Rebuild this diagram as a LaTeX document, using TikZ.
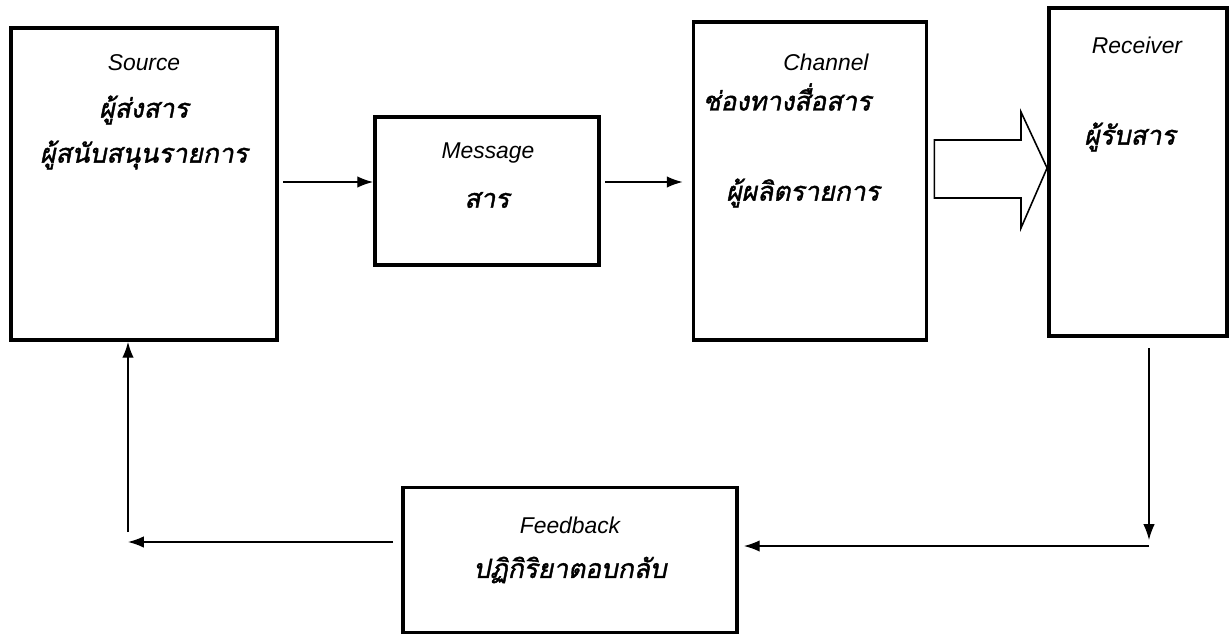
\documentclass[tikz,border=0pt]{standalone}
\usepackage{fontspec}
\setmainfont{Liberation Sans}
\newfontfamily\thaifont[Script=Thai,AutoFakeSlant=0.2,AutoFakeBold=1.5]{Loma}
\usetikzlibrary{arrows.meta}
\tikzset{
  blk/.style={draw, line width=2.2pt},
  en/.style={font=\fontsize{13}{15}\selectfont\itshape},
  th/.style={font=\fontsize{15}{17}\thaifont\bfseries\itshape},
  arr/.style={-{Latex[length=9pt,width=6.5pt]}, line width=0.8pt},
}
\begin{document}
\begin{tikzpicture}[x=0.02cm,y=-0.02cm]
		\useasboundingbox (0,0) rectangle (1230,636);
		% boxes
		\node[blk, minimum width=5.32cm, minimum height=6.24cm] (SRC) at (144,184) {};
		\node[blk, minimum width=4.48cm, minimum height=2.96cm] (MSG) at (487,191) {};
		\node[blk, minimum width=4.66cm, minimum height=6.36cm] (CH) at (810,181) {};
		\node[blk, minimum width=3.56cm, minimum height=6.56cm] (RCV) at (1138,172) {};
		\node[blk, minimum width=6.68cm, minimum height=2.90cm] (FB) at (570,560) {};
		
		% texts
		\node[en] (SRCa) at (144,63) {Source};
		\node[th] (SRCb) at (144,110) {ผู้ส่งสาร};
		\node[th] (SRCc) at (144,155) {ผู้สนับสนุนรายการ};
		\node[en] (MSGa) at (488,153) {Message};
		\node[th] (MSGb) at (487,200) {สาร};
		\node[en] (CHa) at (826,62) {Channel};
		\node[th] (CHb) at (787,97) {ช่องทางสื่อสาร};
		\node[th] (CHc) at (803,193) {ผู้ผลิตรายการ};
		\node[en] (RCVa) at (1137,45) {Receiver};
		\node[th] (RCVb) at (1130,137) {ผู้รับสาร};
		\node[en] (FBa) at (570,525) {Feedback};
		\node[th] (FBb) at (570,570) {ปฏิกิริยาตอบกลับ};
		
		% free ends
		\coordinate (m1) at (283,182);
		\coordinate (m2) at (605,182);
		\coordinate (r1) at (1149,348);
		\coordinate (r2) at (1149,540);
		\coordinate (r3) at (1149,546);
		\coordinate (l1) at (128,542);
		\coordinate (l2) at (128,532);
		
		\draw[arr] (m1)--(MSG.west |- m1);
		\draw[arr] (m2)--([xshift=-0.18cm]CH.west |- m2);
		\draw[line width=0.9pt] ([xshift=0.12cm]CH.east |- 0,140) -- (1021,140) -- (1021,112)
		    -- (RCV.west |- 0,168) -- (1021,228) -- (1021,198) -- ([xshift=0.12cm]CH.east |- 0,198) -- cycle;
		\draw[arr] (r1)--(r2);
		\draw[arr] (r3)--([xshift=0.1cm]FB.east |- r3);
		\draw[arr] ([xshift=-0.16cm]FB.west |- l1)--(l1);
		\draw[arr] (l2)--(l2 |- SRC.south);
\end{tikzpicture}
\end{document}
